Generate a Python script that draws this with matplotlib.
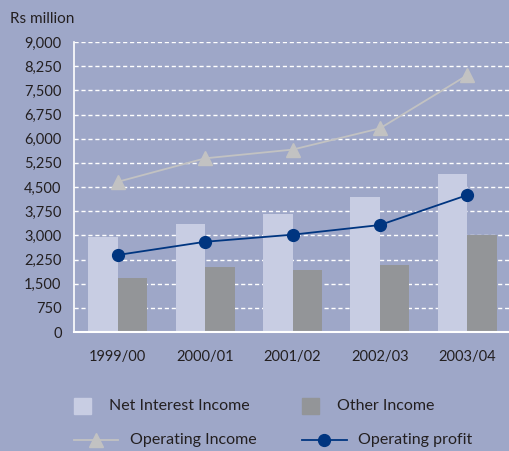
import numpy as np
import matplotlib.pyplot as plt
from matplotlib.patches import Rectangle
from matplotlib.lines import Line2D

plt.rcParams['font.family'] = ['Lato', 'DejaVu Sans']

# Rs million
years = ['1999/00', '2000/01', '2001/02', '2002/03', '2003/04']
net_interest = [2960, 3350, 3660, 4190, 4900]
other_income = [1680, 2020, 1920, 2080, 3000]
operating_income = [4660, 5390, 5660, 6320, 7970]
operating_profit = [2390, 2800, 3020, 3320, 4250]
yticks = np.arange(0, 9001, 750)

bg = '#9ea7c8'
light = '#c8cde3'
dark = '#939598'
navy = '#003580'
grey = '#c2c2c2'
txt = '#231f20'

W, H = 509, 451
fig = plt.figure(figsize=(W / 100, H / 100), dpi=100, facecolor=bg)
ax = fig.add_axes([74 / W, 1 - 332 / H, 435 / W, 290 / H])
ax.set_facecolor(bg)

x = np.arange(len(years))
w = 0.337
ax.bar(x - w / 2, net_interest, w, color=light, zorder=2)
ax.bar(x + w / 2, other_income, w, color=dark, zorder=2)
ax.plot(x, operating_income, color=grey, lw=1.3, marker='^', ms=9.5,
        mfc=grey, mec=grey, zorder=3)
ax.plot(x, operating_profit, color=navy, lw=1.3, marker='o', ms=8.5,
        mfc=navy, mec=navy, zorder=4)

ax.set_xlim(-0.5, 4.477)
ax.set_ylim(0, 9000)
ax.set_yticks(yticks)
ax.set_yticklabels(['{:,}'.format(v) for v in yticks])
ax.set_xticks(x)
ax.set_xticklabels(years)
ax.tick_params(length=0, labelsize=10.5, colors=txt)
ax.tick_params(axis='x', pad=13)
ax.tick_params(axis='y', pad=9)
ax.grid(axis='y', color='white', ls=(0, (3, 2)), lw=1, zorder=1)
ax.set_axisbelow(True)
for s in ['top', 'right']:
    ax.spines[s].set_visible(False)
ax.spines['left'].set_color('white')
ax.spines['left'].set_linewidth(1.2)
ax.spines['bottom'].set_color('white')
ax.spines['bottom'].set_linewidth(1.5)
ax.spines['left'].set_zorder(5)
ax.spines['bottom'].set_zorder(5)

fig.text(10 / W, 1 - 23 / H, 'Rs million', fontsize=11, color=txt, va='baseline')


def px(xp, yp):
    return xp / W, 1 - yp / H


# legend, built by hand in pixel positions
tf = fig.transFigure
fs = 11.5
fig.add_artist(Rectangle(px(74, 414), 17 / W, 16 / H, color=light, transform=tf))
fig.add_artist(Rectangle(px(302, 414), 17 / W, 16 / H, color=dark, transform=tf))
fig.text(*px(109, 406), 'Net Interest Income', fontsize=fs, color=txt, va='center')
fig.text(*px(337, 406), 'Other Income', fontsize=fs, color=txt, va='center')

lx, ly = px(74, 440)
rx, _ = px(118, 440)
fig.add_artist(Line2D([lx, rx], [ly, ly], color=grey, lw=1.3, transform=tf))
mx, _ = px(96, 440)
fig.add_artist(Line2D([mx], [ly], marker='^', ms=10, color=grey, transform=tf))
fig.text(*px(130, 440), 'Operating Income', fontsize=fs, color=txt, va='center')

lx, ly = px(302, 440)
rx, _ = px(347, 440)
fig.add_artist(Line2D([lx, rx], [ly, ly], color=navy, lw=1.3, transform=tf))
mx, _ = px(324, 440)
fig.add_artist(Line2D([mx], [ly], marker='o', ms=8.5, color=navy, transform=tf))
fig.text(*px(358, 440), 'Operating profit', fontsize=fs, color=txt, va='center')

fig.savefig('out.png', dpi=100, facecolor=bg)
